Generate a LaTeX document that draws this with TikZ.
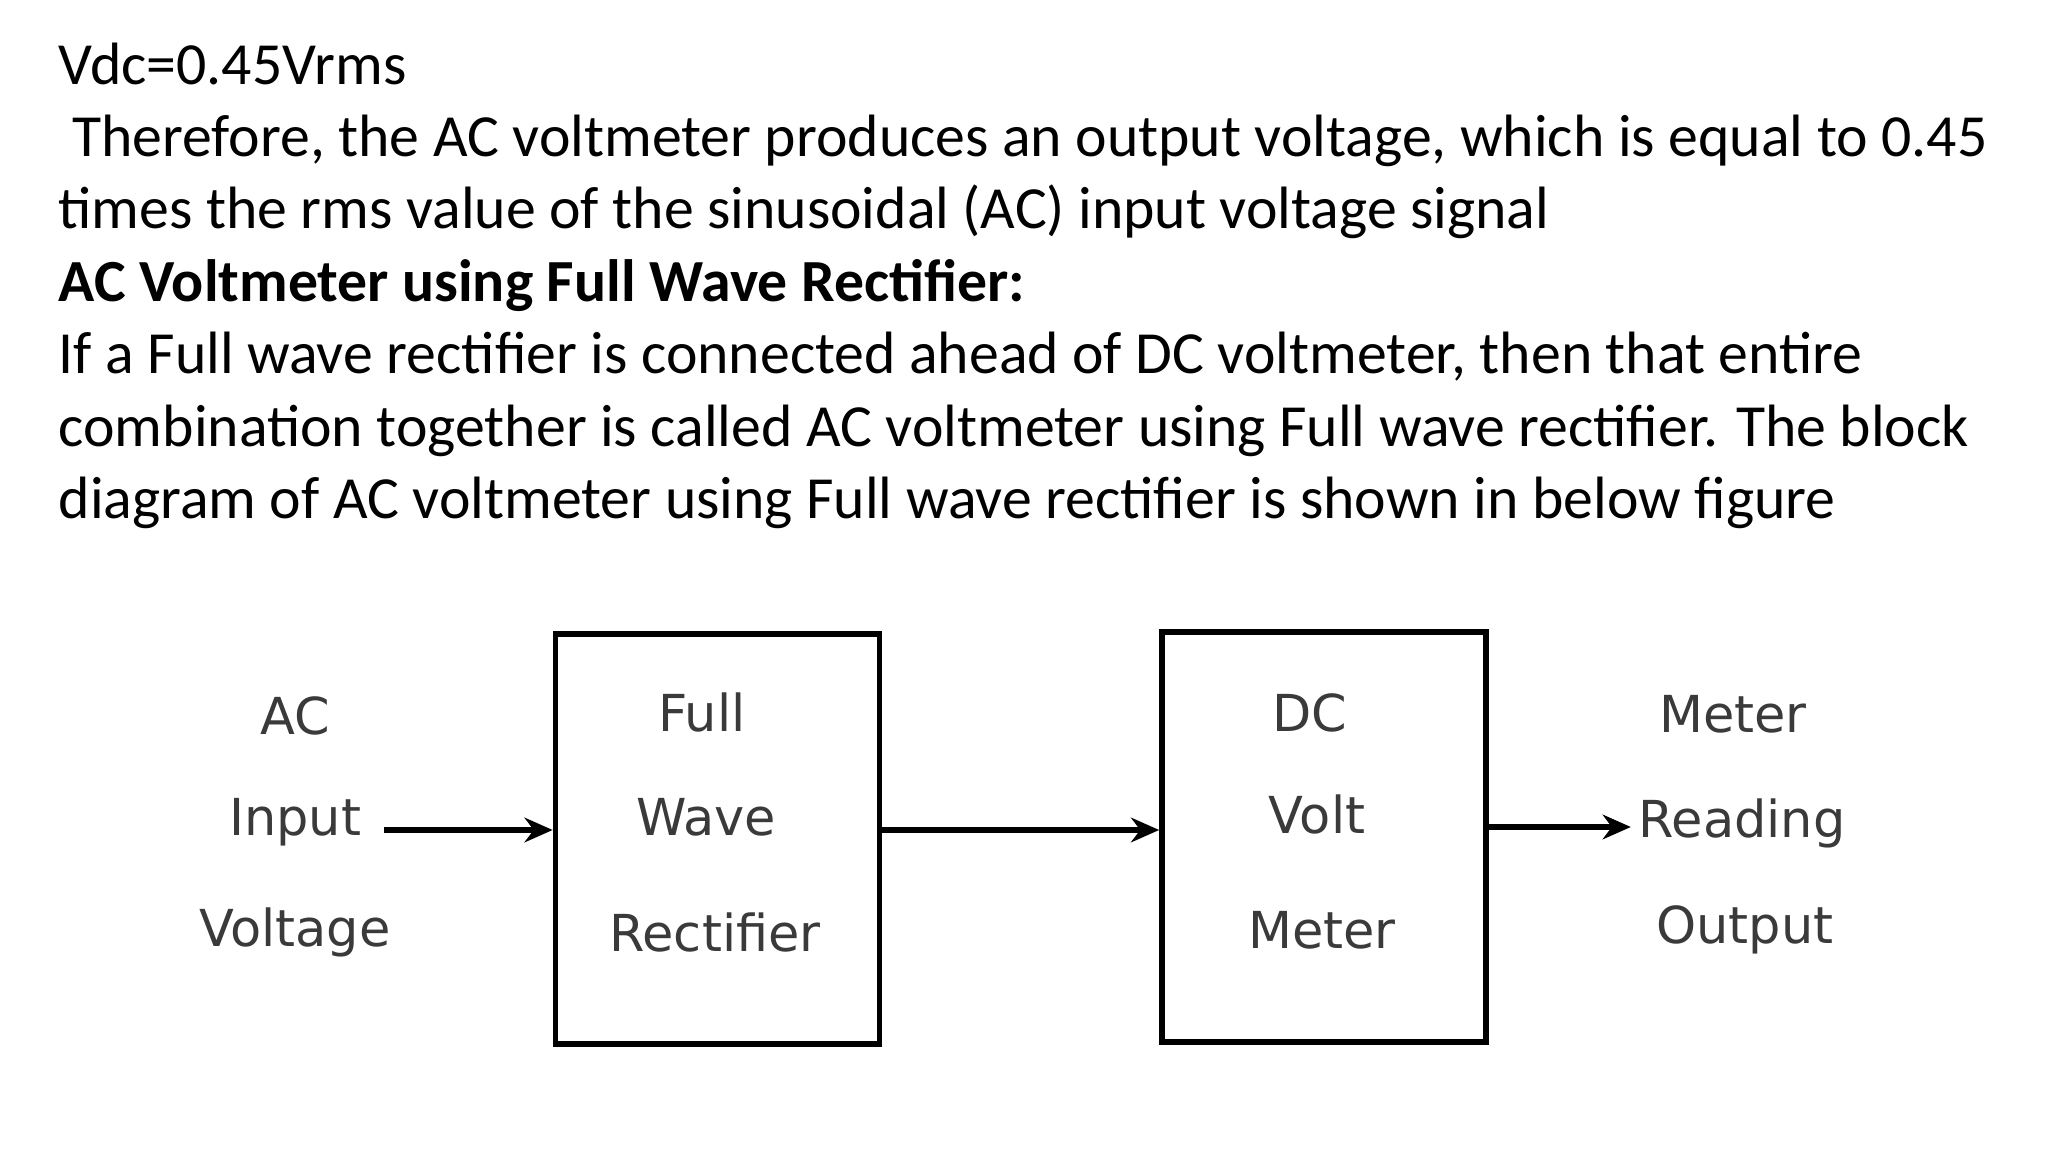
\documentclass[tikz,border=0pt]{standalone}
\usepackage{fontspec}
\setmainfont{Carlito}
\newfontfamily\blockfont{DejaVu Sans}
\usetikzlibrary{positioning,arrows.meta}
\definecolor{lbl}{HTML}{3A3A3A}
\tikzset{
  blk/.style={draw,line width=1.6pt,minimum width=3.24cm,minimum height=4.1cm},
  lab/.style={font=\blockfont\fontsize{14.5}{16}\selectfont,text=lbl,inner sep=2pt},
  flow/.style={-{Stealth[length=8pt,width=7pt]},line width=1.6pt}
}
\begin{document}
\begin{tikzpicture}
  \useasboundingbox (0,0) rectangle (20.48,-11.52);
  % heading text
  \node[anchor=north west,align=left,inner sep=0pt,font=\fontsize{17}{20.6}\selectfont] (txt) at (0.58,-0.42)
  {Vdc=0.45Vrms\\
   \ Therefore, the AC voltmeter produces an output voltage, which is equal to 0.45\\
   times the rms value of the sinusoidal (AC) input voltage signal\\
   \textbf{AC Voltmeter using Full Wave Rectifier:}\\
   If a Full wave rectifier is connected ahead of DC voltmeter, then that entire\\
   combination together is called AC voltmeter using Full wave rectifier. The block\\
   diagram of AC voltmeter using Full wave rectifier is shown in below figure};
  % blocks
  \node[blk] (rect) at (7.175,-8.39) {};
  \node[blk] (dcvm) at (13.24,-8.37) {};
  \node[lab] (ac) at (2.95,-7.16) {AC};
  \node[lab] (input) at (2.95,-8.22) {Input};
  \node[lab] (vin) at (2.95,-9.32) {Voltage};
  \node[lab] (full) at (7.02,-7.13) {Full};
  \node[lab] (wave) at (7.06,-8.17) {Wave};
  \node[lab] (rtf) at (7.15,-9.32) {Rectifier};
  \node[lab] (dc) at (13.1,-7.13) {DC};
  \node[lab] (volt) at (13.17,-8.15) {Volt};
  \node[lab] (mtr) at (13.22,-9.3) {Meter};
  \node[lab] (meter) at (17.33,-7.14) {Meter};
  \node[lab] (reading) at (17.42,-8.23) {Reading};
  \node[lab] (out) at (17.45,-9.3) {Output};
  % connectors
  \draw[flow] (input.east) ++(0.15,-0.08) coordinate (s) -- (s -| rect.west);
  \draw[flow] (rect.east |- 0,-8.3) coordinate (m) -- (m -| dcvm.west);
  \draw[flow] (dcvm.east |- 0,-8.27) coordinate (r) -- (r -| reading.west);
\end{tikzpicture}
\end{document}
